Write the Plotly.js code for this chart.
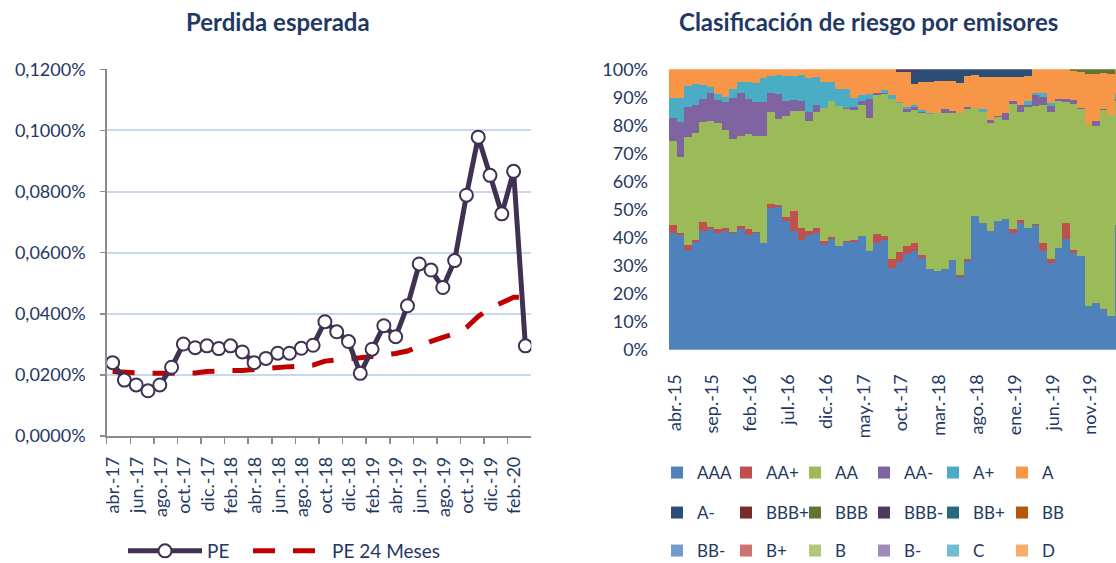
<!DOCTYPE html>
<html><head><meta charset="utf-8">
<script src="https://cdn.plot.ly/plotly-3.0.1.min.js"></script>
<style>html,body{margin:0;padding:0;background:#fff;}#chart{width:1116px;height:563px;}</style>
</head><body><div id="chart"></div>
<script>
// ---------- Left chart: Perdida esperada ----------
const monthsPE = ['abr.-17','may.-17','jun.-17','jul.-17','ago.-17','sep.-17','oct.-17','nov.-17','dic.-17',
 'ene.-18','feb.-18','mar.-18','abr.-18','may.-18','jun.-18','jul.-18','ago.-18','sep.-18','oct.-18','nov.-18','dic.-18',
 'ene.-19','feb.-19','mar.-19','abr.-19','may.-19','jun.-19','jul.-19','ago.-19','sep.-19','oct.-19','nov.-19','dic.-19',
 'ene.-20','feb.-20','mar.-20'];
const pe = [0.0240,0.0183,0.0167,0.0148,0.0167,0.0225,0.0301,0.0289,0.0295,0.0286,0.0295,0.0275,0.0240,0.0254,0.0271,0.0271,
 0.0287,0.0297,0.0374,0.0341,0.0309,0.0205,0.0284,0.0361,0.0325,0.0426,0.0563,0.0543,0.0486,0.0574,0.0788,0.0978,0.0853,0.0727,0.0866,0.0295];
const pe24 = [0.0211,0.0208,0.0206,0.0205,0.0205,0.0205,0.0204,0.0206,0.0211,0.0214,0.0214,0.0214,0.0218,0.0221,0.0224,0.0227,
 0.0229,0.0232,0.0245,0.0251,0.0253,0.0256,0.0260,0.0265,0.0270,0.0278,0.0295,0.0310,0.0323,0.0335,0.0355,0.0391,0.0418,0.0438,0.0454,0.0454];

// ---------- Right chart: Clasificación de riesgo por emisores ----------
const monthsR = ['abr.-15','may.-15','jun.-15','jul.-15','ago.-15','sep.-15','oct.-15','nov.-15','dic.-15',
 'ene.-16','feb.-16','mar.-16','abr.-16','may.-16','jun.-16','jul.-16','ago.-16','sep.-16','oct.-16','nov.-16','dic.-16',
 'ene.-17','feb.-17','mar.-17','abr.-17','may.-17','jun.-17','jul.-17','ago.-17','sep.-17','oct.-17','nov.-17','dic.-17',
 'ene.-18','feb.-18','mar.-18','abr.-18','may.-18','jun.-18','jul.-18','ago.-18','sep.-18','oct.-18','nov.-18','dic.-18',
 'ene.-19','feb.-19','mar.-19','abr.-19','may.-19','jun.-19','jul.-19','ago.-19','sep.-19','oct.-19','nov.-19','dic.-19',
 'ene.-20','feb.-20','mar.-20'];
const rAAA = [41.7,40.9,35.6,38.5,42.3,42.9,41.5,42.2,41.5,42.9, 40.9,41.7,37.9,50.4,50.9,45.8,42.3,39.1,40.9,41.5,
 37.6,39.4,37.0,38.5,38.5,40.5,35.2,38.2,39.1,29.0, 31.2,34.0,35.3,32.6,28.7,28.1,28.9,32.0,25.8,31.6,
 47.7,45.1,42.3,45.9,46.6,41.5,45.1,43.5,44.5,35.3, 30.8,36.1,39.4,34.6,33.4,15.7,16.5,14.4,12.0,44.5];
const rAAp = [2.7,0.7,1.7,0.8,3.2,1.0,1.4,1.3,0.6,1.3, 2.3,0.2,0,1.5,0.8,1.4,7.1,4.4,1.4,2.0,
 1.2,0.8,0,0.2,0.6,0,0,3.1,1.4,3.2, 3.6,3.1,2.9,1.1,0,0,0,0,0.8,0.6,
 0,0,0,0,0,1.5,1.2,0,0.2,2.9, 1.5,0,5.9,1.0,0,0,0,0,0,0];
const rAA = [30.0,27.1,38.6,38.0,35.7,37.7,38.0,34.8,33.1,32.1, 33.8,34.2,38.2,32.9,30.7,36.1,35.7,41.7,39.2,41.1,
 47.3,48.5,49.9,47.0,46.4,46.7,47.3,49.6,50.7,57.1, 53.2,47.8,47.3,50.7,55.4,56.2,55.6,52.3,57.7,53.6,
 38.6,39.5,38.6,37.2,35.3,44.6,38.4,43.2,42.3,49.1, 52.3,52.7,42.9,52.0,52.4,64.4,63.3,71.1,71.7,44.2];
const rAAm = [8.3,12.4,10.7,9.8,8.2,10.1,8.3,10.2,14.7,15.3, 12.5,12.2,12.1,6.8,8.9,5.5,3.9,3.6,3.3,2.6,
 0,0,0,0.4,1.2,1.5,6.9,0.8,0.2,0, 0,0.8,1.2,0.5,0,0,1.4,0.8,0,0.8,
 0,0,1.0,0.4,2.6,1.2,2.4,0.6,3.8,3.0, 2.3,0.5,1.2,1.5,0.4,0,1.8,0.4,0,0.6];
const rAp = [7.1,8.8,7.3,7.5,4.9,1.9,2.0,1.7,3.0,3.9, 5.9,6.9,8.8,5.9,6.5,8.8,8.6,9.0,12.2,9.9,
 9.3,6.9,6.1,6.9,3.0,2.3,1.7,0,1.2,1.5, 0.5,0.7,0.6,0.5,0.4,0,0,0,0,0,
 0,1.2,0,0,0,0,0,1.5,0.8,1.2, 1.0,0,0,0,0,0,0,0,0,1.8];
const rA = [10.2,10.1,6.1,5.4,5.7,6.4,8.8,9.8,7.1,4.5, 4.6,4.8,3.0,2.5,2.2,2.4,2.4,2.2,3.0,2.9,
 4.6,4.4,7.0,7.0,10.3,9.0,8.9,8.3,7.4,9.2, 10.4,12.5,7.5,10.1,11.0,11.5,10.1,10.6,10.9,11.0,
 11.6,11.6,15.2,13.9,12.9,8.6,10.3,8.8,8.4,8.5, 12.1,10.7,10.6,10.4,12.8,18.2,16.7,12.7,14.6,8.9];
const rAm = [0,0,0,0,0,0,0,0,0,0, 0,0,0,0,0,0,0,0,0,0, 0,0,0,0,0,0,0,0,0,0,
 0,0,4.2,4.5,4.5,4.2,4.0,4.3,4.8,2.4, 2.1,2.6,2.9,2.6,2.6,2.6,2.6,2.4,0,0, 0,0,0,0,0,0,0,0,0,0];
const rBBB = [0,0,0,0,0,0,0,0,0,0, 0,0,0,0,0,0,0,0,0,0, 0,0,0,0,0,0,0,0,0,0,
 0,0,0,0,0,0,0,0,0,0, 0,0,0,0,0,0,0,0,0,0, 0,0,0,0.5,1.0,1.7,1.7,1.4,1.7,0];
const rBBBm = [0,0,0,0,0,0,0,0,0,0, 0,0,0,0,0,0,0,0,0,0, 0,0,0,0,0,0,0,0,0,0,
 1.1,1.1,1.0,0,0,0,0,0,0,0, 0,0,0,0,0,0,0,0,0,0, 0,0,0,0,0,0,0,0,0,0];
const rNone = [0,0,0,0,0,0,0,0,0,0, 0,0,0,0,0,0,0,0,0,0, 0,0,0,0,0,0,0,0,0,0,
 0,0,0,0,0,0,0,0,0,0, 0,0,0,0,0,0,0,0,0,0, 0,0,0,0,0,0,0,0,0,0];

const ratingNames = ['AAA','AA+','AA','AA-','A+','A','A-','BBB+','BBB','BBB-','BB+','BB','BB-','B+','B','B-','C','D'];
const ratingValues = [rAAA,rAAp,rAA,rAAm,rAp,rA,rAm,rNone,rBBB,rBBBm,rNone,rNone,rNone,rNone,rNone,rNone,rNone,rNone];
const ratingColors = ['#4F81BD','#C0504D','#9BBB59','#8064A2','#4BACC6','#F79646','#2C4D75','#772C2A','#5F7530',
 '#4D3B62','#276A7C','#B65708','#729ACA','#CD7371','#AFC97A','#9F8AB9','#6FBDD1','#F9AB6B'];

const W = 1116, H = 563;
const TXT = '#1F3864';
const FONT = 'Lato, "Open Sans", sans-serif';

const traces = [];
traces.push({x: monthsPE, y: pe24, name: 'PE 24 Meses', type: 'scatter', mode: 'lines', xaxis: 'x', yaxis: 'y',
  line: {color: '#C00000', width: 5, dash: '22px,18px'}, legend: 'legend', legendrank: 2, legendwidth: 130, hoverinfo: 'skip'});
traces.push({x: monthsPE, y: pe, name: 'PE', type: 'scatter', mode: 'lines+markers', xaxis: 'x', yaxis: 'y',
  line: {color: '#403152', width: 5}, marker: {symbol: 'circle', size: 13, color: '#FFFFFF', line: {color: '#403152', width: 2}},
  legend: 'legend', legendrank: 1, legendwidth: 36, hoverinfo: 'skip'});

ratingNames.forEach((nm, i) => {
  traces.push({x: monthsR, y: ratingValues[i], name: nm, type: 'bar', xaxis: 'x2', yaxis: 'y2',
    marker: {color: ratingColors[i], line: {width: 0}},
    legend: i < 6 ? 'legend2' : (i < 12 ? 'legend3' : 'legend4'), hoverinfo: 'skip'});
});

const rowLegend = (yPx) => ({orientation: 'h', x: 657 / W, xanchor: 'left', y: 1 - yPx / H, yanchor: 'middle',
  font: {family: FONT, size: 17, color: TXT}, entrywidth: 24, bgcolor: 'rgba(0,0,0,0)', traceorder: 'normal'});

const layout = {
  width: W, height: H, margin: {l: 0, r: 0, t: 0, b: 0, autoexpand: false},
  paper_bgcolor: '#FFFFFF', plot_bgcolor: '#FFFFFF',
  separators: ',.',
  font: {family: FONT, color: TXT, size: 17},
  showlegend: true,
  barmode: 'stack', bargap: 0, barnorm: 'percent',
  xaxis: {domain: [106.7 / W, 531.3 / W], anchor: 'y', type: 'category', range: [-0.5, 35.5],
    tickmode: 'linear', tick0: 0, dtick: 2, tickangle: -90, ticks: 'outside', tickson: 'boundaries',
    ticklen: 6, tickwidth: 1.5, tickcolor: '#8C8C8C', showline: true, linecolor: '#8C8C8C', linewidth: 1.5,
    showgrid: false, zeroline: false, automargin: false, ticklabelstandoff: 12, ticklabelshift: 1,
    tickfont: {size: 18, color: TXT}},
  yaxis: {domain: [1 - 436 / H, 1 - 69.3 / H], anchor: 'x', range: [0, 0.1200001], tickmode: 'linear', tick0: 0, dtick: 0.02,
    tickformat: '.4f', ticksuffix: '%', showgrid: true, gridcolor: '#C6D9F1', gridwidth: 2,
    showline: true, linecolor: '#8C8C8C', linewidth: 1.5, ticks: 'outside', ticklen: 5, tickwidth: 1.5, tickcolor: '#8C8C8C',
    zeroline: false, automargin: false, ticklabelstandoff: 11, tickfont: {size: 18, color: TXT}},
  xaxis2: {domain: [669 / W, 1], anchor: 'y2', type: 'category', range: [-0.5, 58.63],
    tickmode: 'linear', tick0: 0, dtick: 5, tickangle: -90, ticks: '', showline: false, showgrid: false, zeroline: false,
    automargin: false, ticklabelstandoff: 20, ticklabelshift: 2, tickfont: {size: 18, color: TXT}},
  yaxis2: {domain: [1 - 349.7 / H, 1 - 69.3 / H], anchor: 'x2', range: [0, 100], tickmode: 'linear', tick0: 0, dtick: 10,
    ticksuffix: '%', showgrid: false, zeroline: false, showline: false, ticks: '', automargin: false,
    ticklabelstandoff: 20, tickfont: {size: 18, color: TXT}},
  legend: {orientation: 'h', x: 123 / W, xanchor: 'left', y: 1 - 551 / H, yanchor: 'middle', itemwidth: 74,
    font: {family: FONT, size: 19, color: TXT}, bgcolor: 'rgba(0,0,0,0)', traceorder: 'normal'},
  legend2: rowLegend(473),
  legend3: rowLegend(513),
  legend4: rowLegend(551),
  annotations: [
    {text: '<b>Perdida esperada</b>', xref: 'paper', yref: 'paper', x: 278 / W, y: 1 - 22 / H, xanchor: 'center', yanchor: 'middle',
      showarrow: false, font: {family: FONT, size: 24, color: TXT}},
    {text: '<b>Clasificación de riesgo por emisores</b>', xref: 'paper', yref: 'paper', x: 868 / W, y: 1 - 22 / H,
      xanchor: 'center', yanchor: 'middle', showarrow: false, font: {family: FONT, size: 24, color: TXT}}
  ]
};

Plotly.newPlot('chart', traces, layout, {staticPlot: true, displayModeBar: false});
</script>
</body></html>
